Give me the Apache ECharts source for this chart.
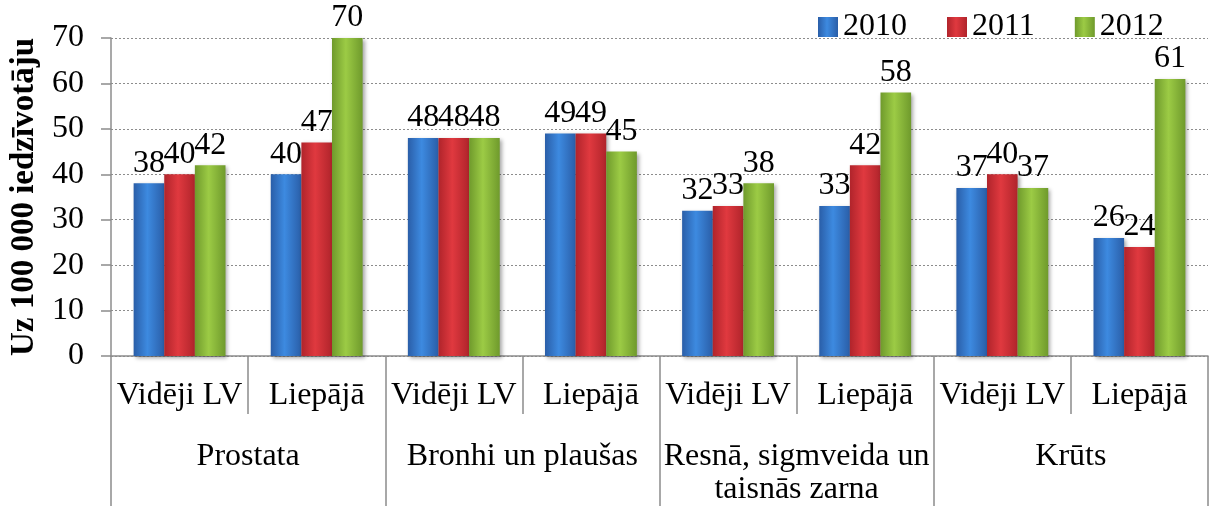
<!DOCTYPE html>
<html>
<head>
<meta charset="utf-8">
<script src="https://cdn.jsdelivr.net/npm/echarts@6/dist/echarts.min.js"></script>
<style>
  html, body { margin: 0; padding: 0; background: #fff; }
  #chart { width: 1214px; height: 506px; }
</style>
</head>
<body>
<div id="chart"></div>
<script>
const categories = ['Vidēji LV', 'Liepājā', 'Vidēji LV', 'Liepājā', 'Vidēji LV', 'Liepājā', 'Vidēji LV', 'Liepājā']
const groups = ['Prostata', 'Bronhi un plaušas', 'Resnā, sigmveida un\ntaisnās zarna', 'Krūts']
const years = ['2010', '2011', '2012']
const values2010 = [38, 40, 48, 49, 32, 33, 37, 26]
const values2011 = [40, 47, 48, 49, 33, 42, 40, 24]
const values2012 = [42, 70, 48, 45, 38, 58, 37, 61]

const FONT = '"Liberation Serif", "Times New Roman", serif'
const AXIS_GREY = '#8c8c8c'

// horizontal gradient to fake the bevelled 3D look
function barFill(edge, mid) {
  return new echarts.graphic.LinearGradient(0, 0, 1, 0, [
    { offset: 0, color: edge },
    { offset: 0.45, color: mid },
    { offset: 1, color: edge }
  ])
}
const fills = [
  barFill('#2a5ea8', '#3d8ae0'),
  barFill('#b0242b', '#e0393f'),
  barFill('#6f9a2c', '#9ccb45')
]
const legendColors = ['#3276cc', '#cc2f36', '#88b83a']

const chart = echarts.init(document.getElementById('chart'))

chart.setOption({
  animation: false,
  textStyle: { fontFamily: FONT },
  grid: { left: 111, right: 6, top: 38, bottom: 150 },
  legend: {
    left: 813,
    top: 6,
    itemWidth: 20,
    itemHeight: 20,
    itemGap: 40,
    icon: 'rect',
    textStyle: { fontFamily: FONT, fontSize: 32, color: '#000' },
    data: years
  },
  xAxis: [
    {
      type: 'category',
      data: categories,
      axisLine: { show: true, lineStyle: { color: AXIS_GREY, width: 1.5 } },
      axisTick: { show: true, length: 58, interval: 0, lineStyle: { color: AXIS_GREY, width: 1.5 } },
      axisLabel: {
        interval: 0,
        margin: 24,
        fontFamily: FONT,
        fontSize: 32,
        color: '#000'
      }
    },
    {
      type: 'category',
      data: groups,
      position: 'bottom',
      axisLine: { show: false },
      axisTick: { show: true, length: 150, interval: 0, lineStyle: { color: AXIS_GREY, width: 1.5 } },
      axisLabel: {
        interval: 0,
        margin: 84,
        fontFamily: FONT,
        fontSize: 32,
        lineHeight: 33,
        color: '#000'
      }
    }
  ],
  yAxis: {
    type: 'value',
    min: 0,
    max: 70,
    interval: 10,
    name: 'Uz 100 000 iedzīvotāju',
    nameLocation: 'middle',
    nameGap: 67,
    nameTextStyle: { fontFamily: FONT, fontSize: 33, fontWeight: 'bold', color: '#000' },
    axisLine: { show: true, lineStyle: { color: AXIS_GREY, width: 1.5 } },
    axisTick: { show: true, length: 10, lineStyle: { color: AXIS_GREY, width: 1.5 } },
    axisLabel: { margin: 27, fontFamily: FONT, fontSize: 32, color: '#000' },
    splitLine: { lineStyle: { color: '#8c8c8c', type: [2, 2], width: 1 } }
  },
  series: [values2010, values2011, values2012].map((vals, i) => ({
    name: years[i],
    type: 'bar',
    data: vals,
    barGap: '0%',
    barCategoryGap: '33%',
    itemStyle: {
      color: fills[i],
      shadowBlur: 4,
      shadowColor: 'rgba(0,0,0,0.35)',
      shadowOffsetX: 2,
      shadowOffsetY: 2
    },
    label: {
      show: true,
      position: 'top',
      distance: 4,
      fontFamily: FONT,
      fontSize: 32,
      color: '#000'
    }
  })),
  color: legendColors
})
</script>
</body>
</html>
